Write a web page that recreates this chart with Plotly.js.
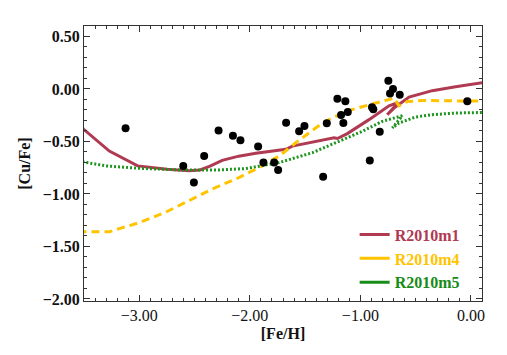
<!DOCTYPE html>
<html>
<head>
<meta charset="utf-8">
<script src="https://cdn.plot.ly/plotly-3.0.1.min.js"></script>
<style>html,body{margin:0;padding:0;background:#fff;}#chart{width:507px;height:355px;}</style>
</head>
<body>
<div id="chart"></div>
<script>
// Observed stars
var obsFeH = [-3.124,-2.602,-2.506,-2.413,-2.283,-2.153,-2.085,-1.925,-1.877,-1.780,-1.744,-1.672,-1.554,-1.506,-1.337,-1.304,-1.208,-1.175,-1.154,-1.136,-1.114,-0.915,-0.895,-0.883,-0.825,-0.747,-0.732,-0.705,-0.644,-0.033];
var obsCuFe = [-0.375,-0.733,-0.890,-0.638,-0.396,-0.446,-0.488,-0.547,-0.701,-0.701,-0.771,-0.321,-0.403,-0.352,-0.837,-0.327,-0.094,-0.248,-0.324,-0.116,-0.220,-0.682,-0.173,-0.192,-0.408,0.078,-0.044,0.000,-0.054,-0.116];

// Model R2010m1
var m1FeH = [-3.55,-3.50,-3.271,-3.015,-2.75,-2.55,-2.45,-2.36,-2.250,-2.10,-1.946,-1.674,-1.615,-1.238,-1.208,-1.118,-0.922,-0.741,-0.657,-0.757,-0.696,-0.560,-0.350,-0.139,0.093,0.12];
var m1CuFe = [-0.34,-0.387,-0.592,-0.733,-0.765,-0.778,-0.772,-0.735,-0.680,-0.640,-0.613,-0.575,-0.544,-0.465,-0.472,-0.425,-0.292,-0.160,-0.129,-0.245,-0.182,-0.078,-0.016,0.022,0.059,0.062];

// Model R2010m4
var m4FeH = [-3.55,-3.506,-3.271,-3.181,-3.0,-2.759,-2.578,-2.338,-2.096,-1.916,-1.735,-1.584,-1.344,-1.132,-0.922,-0.741,-0.696,-0.651,-0.576,-0.443,-0.229,0.090,0.12];
var m4CuFe = [-1.361,-1.361,-1.361,-1.330,-1.274,-1.173,-1.078,-0.953,-0.842,-0.748,-0.639,-0.512,-0.324,-0.214,-0.151,-0.104,-0.088,-0.160,-0.120,-0.110,-0.113,-0.116,-0.116];

// Model R2010m5
var m5FeH = [-3.55,-3.506,-3.301,-3.015,-2.639,-2.277,-2.036,-1.916,-1.735,-1.434,-1.223,-0.982,-0.801,-0.621,-0.711,-0.651,-0.500,-0.350,-0.139,0.093,0.12];
var m5CuFe = [-0.69,-0.695,-0.733,-0.755,-0.771,-0.771,-0.758,-0.733,-0.701,-0.607,-0.512,-0.403,-0.308,-0.255,-0.371,-0.324,-0.267,-0.245,-0.229,-0.224,-0.224];

var names = ['R2010m1','R2010m4','R2010m5'];
var colors = ['#b03a52','#ffc400','#1d941d'];
var legendColors = ['#b03a52','#ffc400','#178c17'];

var serif = "'Liberation Serif', 'Times New Roman', Times, serif";

var traces = [
  {x: m1FeH, y: m1CuFe, mode: 'lines', showlegend: false, line: {color: colors[0], width: 3}},
  {x: m4FeH, y: m4CuFe, mode: 'lines', showlegend: false, line: {color: colors[1], width: 3, dash: '8px,5px'}},
  {x: m5FeH, y: m5CuFe, mode: 'lines', showlegend: false, line: {color: colors[2], width: 3, dash: '2px,2px'}},
  {x: obsFeH, y: obsCuFe, mode: 'markers', showlegend: false, marker: {color: '#000', size: 8}}
];
// legend entries (solid lines, as in the reference legend)
names.forEach(function(n, i){
  traces.push({x: [null], y: [null], mode: 'lines', name: n, showlegend: true, line: {color: legendColors[i], width: 3}});
});

var axisCommon = {
  showgrid: false, zeroline: false, showline: true, linecolor: '#333', linewidth: 1,
  mirror: 'allticks', ticks: 'inside', ticklen: 6, tickcolor: '#333', tickwidth: 1,
  tickformat: '.2f',
  minor: {dtick: 0.1, ticks: 'inside', ticklen: 3, tickcolor: '#333', tickwidth: 1}
};

var layout = {
  width: 507, height: 355,
  margin: {l: 84, r: 25, t: 26, b: 54},
  paper_bgcolor: '#fff', plot_bgcolor: '#fff',
  font: {family: serif, size: 16, color: '#111'},
  showlegend: true,
  legend: {
    x: 0.68, y: 0.005, xanchor: 'left', yanchor: 'bottom',
    bgcolor: 'rgba(0,0,0,0)', borderwidth: 0, tracegroupgap: 0,
    font: {family: serif, size: 16, weight: 'bold'}
  },
  xaxis: Object.assign({}, axisCommon, {
    range: [-3.5, 0.1], dtick: 1, tick0: 0,
    tickfont: {family: serif, size: 16, color: '#111'},
    title: {text: '[Fe/H]', font: {family: serif, size: 16, weight: 'bold', color: '#111'}, standoff: 4}
  }),
  yaxis: Object.assign({}, axisCommon, {
    range: [-2.02, 0.6], dtick: 0.5, tick0: 0,
    tickfont: {family: serif, size: 16, weight: 'bold', color: '#111'},
    title: {text: '[Cu/Fe]', font: {family: serif, size: 16, weight: 'bold', color: '#111'}, standoff: 8}
  })
};

Plotly.newPlot('chart', traces, layout, {displayModeBar: false, staticPlot: true}).then(function(gd){
  var items = gd.querySelectorAll('.legend .traces');
  items.forEach(function(it, i){
    var t = it.querySelector('.legendtext');
    if (t && legendColors[i]) t.style.fill = legendColors[i];
  });
});
</script>
</body>
</html>
